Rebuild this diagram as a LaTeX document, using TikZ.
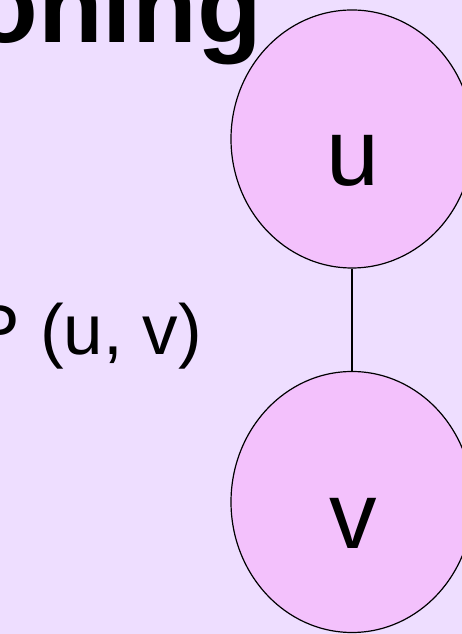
\documentclass[tikz,border=0pt]{standalone}
\usepackage{fontspec}
\setmainfont{Liberation Sans}
\usetikzlibrary{shapes.geometric}
\definecolor{bgcol}{HTML}{EEDEFF}
\definecolor{nodecol}{HTML}{F3C1FC}
\tikzset{
  vertex/.style={ellipse, draw=black, line width=1.2pt, fill=nodecol, inner sep=0pt, minimum width=242pt},
  vlabel/.style={anchor=base, inner sep=0pt, font=\fontsize{95}{100}\selectfont},
  edge/.style={draw=black, line width=1.1pt}
}
\begin{document}
\begin{tikzpicture}[x=1pt,y=1pt]
\useasboundingbox (0,0) rectangle (462,634);
\clip (0,0) rectangle (462,634);
\fill[bgcol] (0,0) rectangle (462,634);
\node[anchor=base east, inner sep=0pt, font=\fontsize{106}{116}\selectfont\bfseries] (title) at (262,591) {Partitioning};
\node[anchor=base east, inner sep=0pt, font=\fontsize{71}{78}\selectfont] (rel) at (202,279) {P (u, v)};
\node[vertex, minimum height=258pt] (u) at (352,495) {};
\node[vertex, minimum height=261pt] (v) at (352,132) {};
\node[vlabel] (ul) at (353,448) {u};
\node[vlabel] (vl) at (353,85) {v};
\draw[edge] (u.south) -- (v.north);
\end{tikzpicture}
\end{document}
